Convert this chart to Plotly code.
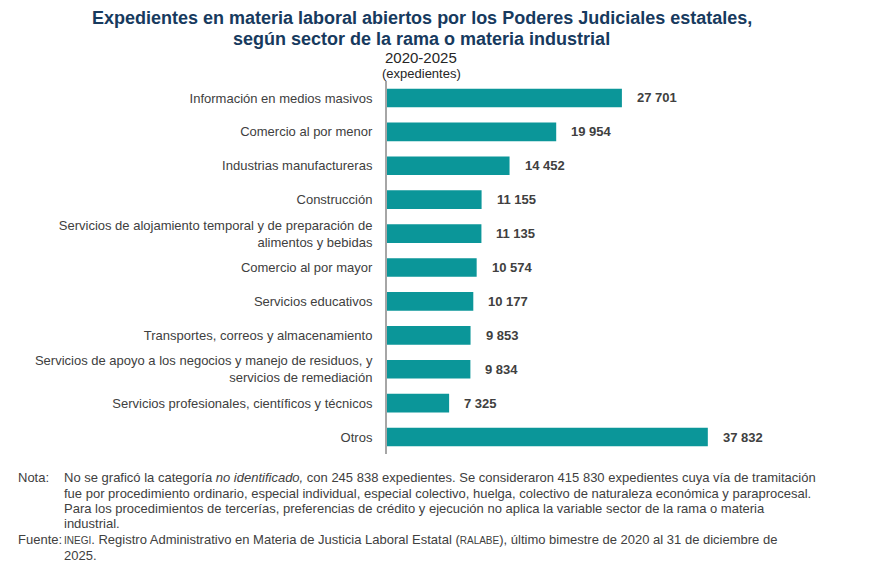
import plotly.graph_objects as go

categories = [
    "Información en medios masivos",
    "Comercio al por menor",
    "Industrias manufactureras",
    "Construcción",
    "Servicios de alojamiento temporal y de preparación de<br>alimentos y bebidas",
    "Comercio al por mayor",
    "Servicios educativos",
    "Transportes, correos y almacenamiento",
    "Servicios de apoyo a los negocios y manejo de residuos, y<br>servicios de remediación",
    "Servicios profesionales, científicos y técnicos",
    "Otros",
]
values = [27701, 19954, 14452, 11155, 11135, 10574, 10177, 9853, 9834, 7325, 37832]

value_labels = [f"{v:,}".replace(",", " ") for v in values]

BAR = "#0B9699"
TXT = "#404040"
FONT = "Liberation Sans, Arial, sans-serif"

# page offset (body margin) in screenshot
OFF = 8
# desired plot area in screenshot pixels
PL, PR, PT, PB = 387, 811, 81, 454
W, H = 896, 571

fig = go.Figure()
fig.add_trace(go.Bar(
    x=values, y=categories, orientation="h",
    marker=dict(color=BAR, line=dict(width=0)),
    width=0.55, hoverinfo="x+y",
))

for v, lab, c in zip(values, value_labels, categories):
    fig.add_annotation(x=v, y=c, text=f"<b>{lab}</b>", showarrow=False,
                       xanchor="left", xshift=13,
                       font=dict(family=FONT, size=13, color=TXT))

fig.update_layout(
    width=W, height=H,
    margin=dict(l=PL - OFF, r=W - (PR - OFF), t=PT - OFF, b=H - (PB - OFF), pad=0),
    plot_bgcolor="white", paper_bgcolor="white",
    showlegend=False,
    xaxis=dict(range=[0, 50000], visible=False, fixedrange=True),
    yaxis=dict(autorange=False, range=[10.5, -0.5], showline=True, linecolor="#A6A6A6",
               linewidth=2, ticks="", showgrid=False, ticklabelstandoff=10,
               tickfont=dict(family=FONT, size=13, color=TXT), fixedrange=True),
)

def px(x): return (x - PL) / (PR - PL)
def py(y): return (PB - y) / (PB - PT)

def txt(x, y, t, size, color, xanchor="left", bold=False, yanchor="middle"):
    fig.add_annotation(xref="paper", yref="paper", x=px(x), y=py(y), xanchor=xanchor,
                       yanchor=yanchor, showarrow=False, borderpad=0, borderwidth=0,
                       text=f"<b>{t}</b>" if bold else t,
                       font=dict(family=FONT, size=size, color=color))

TITLE_C = "#173A5E"
txt(422, OFF, "Expedientes en materia laboral abiertos por los Poderes Judiciales estatales,", 18, TITLE_C, "center", True, "top")
txt(421, 39, "según sector de la rama o materia industrial", 18, TITLE_C, "center", True)
txt(421, 57.5, "2020-2025", 15, "#262626", "center")
txt(421, 73, "(expedientes)", 13, "#262626", "center")

note_lines = [
    (477, "No se graficó la categoría <i>no identificado,</i> con 245 838 expedientes. Se consideraron 415 830 expedientes cuya vía de tramitación"),
    (493, "fue por procedimiento ordinario, especial individual, especial colectivo, huelga, colectivo de naturaleza económica y paraprocesal."),
    (508, "Para los procedimientos de tercerías, preferencias de crédito y ejecución no aplica la variable sector de la rama o materia"),
    (523, "industrial."),
    (539, "<span style='font-size:10px'>INEGI</span>. Registro Administrativo en Materia de Justicia Laboral Estatal (<span style='font-size:10px'>RALABE</span>), último bimestre de 2020 al 31 de diciembre de"),
    (555, "2025."),
]
for y, t in note_lines:
    txt(64, y, t, 13, TXT)
txt(18, 477, "Nota:", 13, TXT)
txt(18, 539, "Fuente:", 13, TXT)

fig.write_html("out.html")
